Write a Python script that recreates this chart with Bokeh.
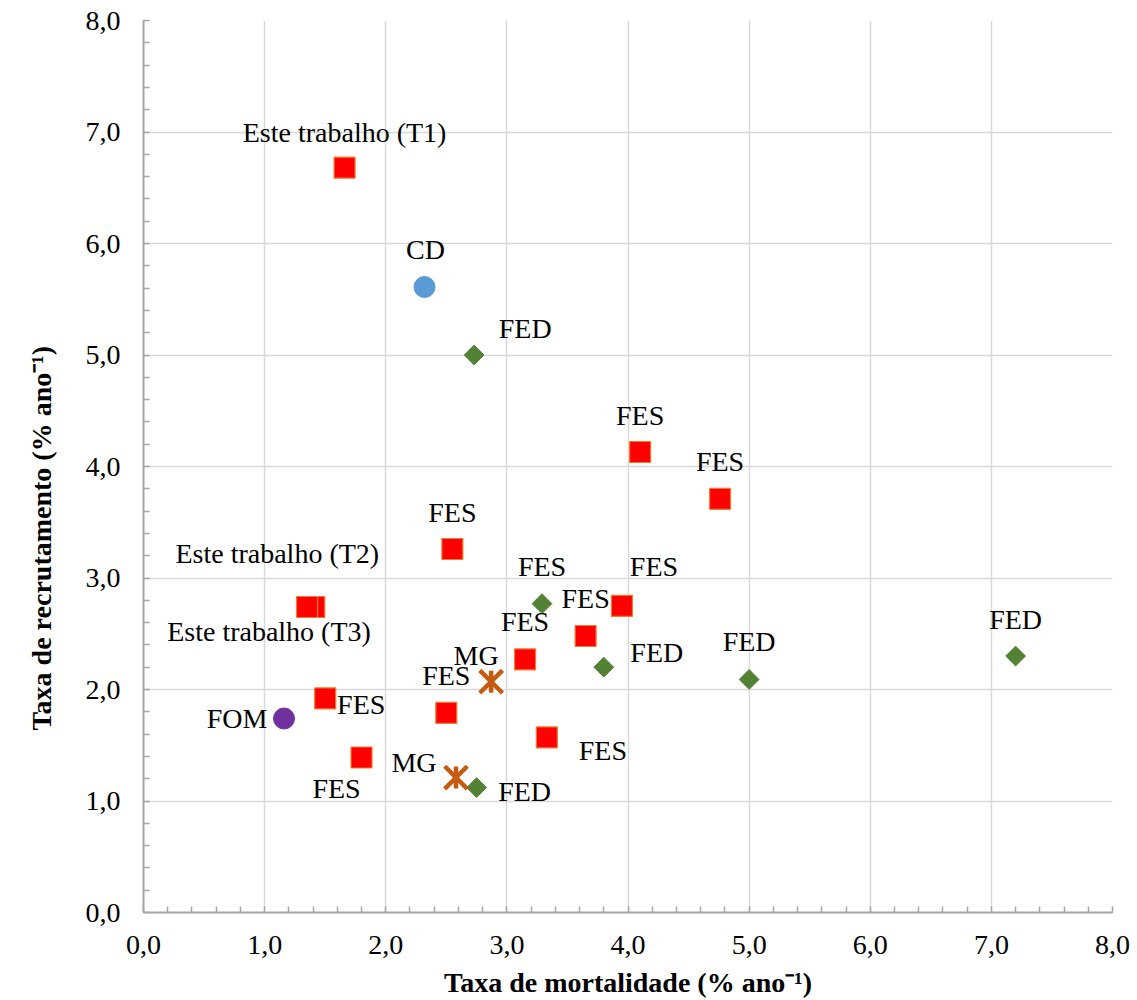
import numpy as np
from bokeh.plotting import figure
from bokeh.models import ColumnDataSource, FixedTicker, Title
from bokeh.core.properties import value
from bokeh.embed import file_html
from bokeh.resources import INLINE

# ---- data ----
fes_x = [1.66, 4.10, 4.76, 2.55, 1.41, 1.35, 3.95, 3.65, 3.15, 1.50, 2.50, 3.33, 1.80]
fes_y = [6.68, 4.13, 3.71, 3.26, 2.74, 2.74, 2.75, 2.48, 2.27, 1.92, 1.79, 1.57, 1.39]
fes_lbl = ["Este trabalho (T1)", "FES", "FES", "FES", "Este trabalho (T2)",
           "Este trabalho (T3)", "FES", "FES", "FES", "FES", "FES", "FES", "FES"]

fed_x = [2.73, 3.29, 3.80, 5.00, 7.20, 2.75]
fed_y = [5.00, 2.77, 2.20, 2.09, 2.30, 1.12]
fed_lbl = ["FED", "FES", "FED", "FED", "FED", "FED"]

cd_x = [2.32]
cd_y = [5.61]
cd_lbl = ["CD"]

fom_x = [1.16]
fom_y = [1.74]
fom_lbl = ["FOM"]

mg_x = [2.87, 2.58]
mg_y = [2.07, 1.21]
mg_lbl = ["MG", "MG"]

tick_vals = [0, 1, 2, 3, 4, 5, 6, 7, 8]
tick_labels = ["0,0", "1,0", "2,0", "3,0", "4,0", "5,0", "6,0", "7,0", "8,0"]
minor_vals = [i / 5 for i in range(0, 41)]

x_title = "Taxa de mortalidade (% ano\u207b\u00b9)"
y_title = "Taxa de recrutamento (% ano\u207b\u00b9)"

# ---- label offsets (screen px, styling) ----
fes_dx = [0, 0, 0, 0, -37, -38, 32, 0, 0, 36, 0, 56, -25]
fes_dy = [-35, -37, -37, -37, -53, 25, -39, -37, -38, 6, -37, 13, 31]
fed_dx = [51, 0, 53, 0, 0, 48]
fed_dy = [-27, -37, -15, -38, -37, 4]
cd_dx, cd_dy = [1], [-37]
fom_dx, fom_dy = [-47], [0]
mg_dx, mg_dy = [-15, -42], [-26, -15]

FONT = "Liberation Serif"

p = figure(frame_width=969, frame_height=892, x_range=(0, 8), y_range=(0, 8),
           output_backend="svg", toolbar_location=None,
           min_border_left=143, min_border_right=24, min_border_top=20,
           min_border_bottom=86)
p.outline_line_color = None
p.background_fill_color = "white"

ticker = FixedTicker(ticks=tick_vals, minor_ticks=minor_vals)
for ax in (p.xaxis[0], p.yaxis[0]):
    ax.ticker = ticker
    ax.major_label_overrides = {v: t for v, t in zip(tick_vals, tick_labels)}
    ax.major_label_text_font = FONT
    ax.major_label_text_font_size = "28px"
    ax.major_label_text_color = "black"
    ax.axis_line_color = "#A6A6A6"
    ax.axis_line_width = 2
    ax.major_tick_in = 6
    ax.major_tick_out = 0
    ax.minor_tick_in = 6
    ax.minor_tick_out = 0
    ax.major_tick_line_color = "#A6A6A6"
    ax.minor_tick_line_color = "#A6A6A6"
    ax.minor_tick_line_width = 1.5

p.xaxis.major_label_standoff = 23
p.yaxis.major_label_standoff = 23
p.xaxis.axis_label = x_title
p.xaxis.axis_label_text_font = FONT
p.xaxis.axis_label_text_font_size = "28px"
p.xaxis.axis_label_text_font_style = "bold"
p.xaxis.axis_label_text_color = "black"
p.xaxis.axis_label_standoff = 10

p.grid.ticker = ticker
p.grid.grid_line_color = "#D9D9D9"
p.grid.grid_line_width = 1.5

# markers
p.scatter(fes_x, fes_y, marker="square", size=21, fill_color="#FF0000",
          line_color="#ED7D31", line_width=1.2)
p.scatter(fed_x, fed_y, marker="square", angle=np.pi / 4, size=14,
          fill_color="#548235", line_color="#548235")
p.scatter(cd_x, cd_y, marker="circle", size=21, fill_color="#5B9BD5", line_color="#5B9BD5")
p.scatter(fom_x, fom_y, marker="circle", size=21, fill_color="#7030A0", line_color="#7030A0")
p.scatter(mg_x, mg_y, marker="x", size=32, line_color="#C55A11", line_width=4.5)
p.scatter(mg_x, mg_y, marker="dash", angle=np.pi / 2, size=22, line_color="#C55A11", line_width=4.5)

# labels
all_x = fes_x + fed_x + cd_x + fom_x + mg_x
all_y = fes_y + fed_y + cd_y + fom_y + mg_y
all_l = fes_lbl + fed_lbl + cd_lbl + fom_lbl + mg_lbl
all_dx = fes_dx + fed_dx + cd_dx + fom_dx + mg_dx
all_dy = fes_dy + fed_dy + cd_dy + fom_dy + mg_dy
src = ColumnDataSource(dict(x=all_x, y=all_y, t=all_l, dx=all_dx, dy=all_dy))
p.text(x="x", y="y", text="t", x_offset="dx", y_offset="dy", source=src,
       text_font=value(FONT), text_font_size="28px", text_color="black",
       text_align="center", text_baseline="middle")

ytitle = Title(text=y_title, align="left", offset=182, vertical_align="top",
               standoff=48, text_font=FONT, text_font_size="28px",
               text_line_height=2.0,
               text_font_style="bold", text_color="black")
p.add_layout(ytitle, "left")

open("out.html", "w").write(file_html(p, INLINE))
